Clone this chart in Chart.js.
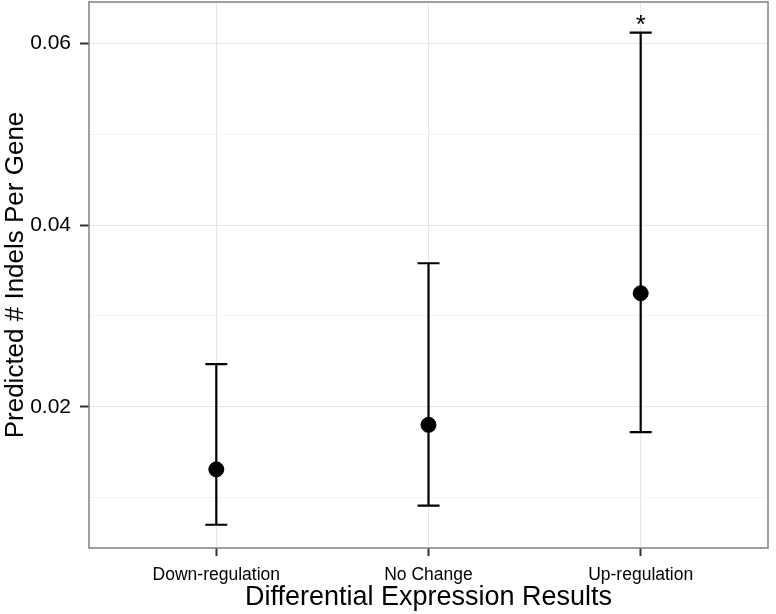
<!DOCTYPE html>
<html>
<head>
<meta charset="utf-8">
<script src="https://cdn.jsdelivr.net/npm/chart.js@4"></script>
<style>
  html, body { margin: 0; padding: 0; background: #ffffff; }
  #wrap { width: 776px; height: 614px; }
</style>
</head>
<body>
<div id="wrap"><canvas id="myChart" width="776" height="614"></canvas></div>
<script>
// categories and values
const categories = ['Down-regulation', 'No Change', 'Up-regulation'];
const meanValues = [0.0131, 0.0180, 0.0325];
const lowerValues = [0.0070, 0.0091, 0.0172];
const upperValues = [0.0247, 0.0358, 0.0612];
const marks = ['', '', '*'];
const yTicks = [0.01, 0.02, 0.03, 0.04, 0.05, 0.06];
const yLabelled = [0.02, 0.04, 0.06];

function isMajor(v) {
    return yLabelled.some(t => Math.abs(t - v) < 1e-9);
}

// error bars + the star above up-regulation
const errorBars = {
    id: 'errorBars',
    beforeDatasetsDraw(chart) {
        const ctx = chart.ctx;
        const xs = chart.scales.x, ys = chart.scales.y;
        ctx.save();
        ctx.strokeStyle = '#000';
        ctx.lineWidth = 2.2;
        for (let i = 0; i < categories.length; i++) {
            let x = xs.getPixelForValue(i + 1);
            let yl = ys.getPixelForValue(lowerValues[i]);
            let yu = ys.getPixelForValue(upperValues[i]);
            ctx.beginPath();
            ctx.moveTo(x, yl); ctx.lineTo(x, yu);
            ctx.moveTo(x - 11, yl); ctx.lineTo(x + 11, yl);
            ctx.moveTo(x - 11, yu); ctx.lineTo(x + 11, yu);
            ctx.stroke();
        }
        ctx.restore();
    },
    afterDatasetsDraw(chart) {
        const ctx = chart.ctx;
        const xs = chart.scales.x, ys = chart.scales.y;
        ctx.save();
        ctx.fillStyle = '#000';
        ctx.font = '26px "Liberation Sans", Arial, sans-serif';
        ctx.textAlign = 'center';
        ctx.textBaseline = 'middle';
        marks.forEach((m, i) => {
            if (!m) return;
            let x = xs.getPixelForValue(i + 1);
            let y = ys.getPixelForValue(upperValues[i]);
            ctx.fillText(m, x, y - 7);
        });
        ctx.restore();
    },
    afterDraw(chart) {
        const a = chart.chartArea;
        const ctx = chart.ctx;
        ctx.save();
        ctx.strokeStyle = '#808080';
        ctx.lineWidth = 1.5;
        ctx.strokeRect(a.left, a.top, a.right - a.left, a.bottom - a.top);
        ctx.restore();
    }
};

var ctx = document.getElementById('myChart').getContext('2d');
var myChart = new Chart(ctx, {
    type: 'scatter',
    data: {
        datasets: [{
            data: meanValues.map((v, i) => ({ x: i + 1, y: v })),
            backgroundColor: '#000',
            borderColor: '#000',
            pointRadius: 7.5,
            pointHoverRadius: 7.5
        }]
    },
    options: {
        responsive: false,
        animation: false,
        layout: { autoPadding: false, padding: { top: 2, right: 8, left: 0, bottom: 0 } },
        plugins: { legend: { display: false }, tooltip: { enabled: false } },
        scales: {
            x: {
                type: 'linear',
                min: 0.4,
                max: 3.6,
                afterBuildTicks: scale => { scale.ticks = categories.map((c, i) => ({ value: i + 1 })); },
                afterFit: scale => {
                    scale.height = 66;
                    scale.paddingLeft = 0; scale.paddingRight = 0;
                },
                ticks: {
                    callback: v => categories[v - 1],
                    color: '#000',
                    font: { family: '"Liberation Sans", Arial, sans-serif', size: 17.5 },
                    padding: 9,
                    maxRotation: 0,
                    autoSkip: false
                },
                grid: { color: '#e6e6e6', lineWidth: 1, tickLength: 8, tickColor: '#333', tickWidth: 2 },
                border: { display: false },
                title: {
                    display: true,
                    text: 'Differential Expression Results',
                    color: '#000',
                    font: { family: '"Liberation Sans", Arial, sans-serif', size: 27 },
                    padding: { top: 0, bottom: 0 }
                }
            },
            y: {
                min: 0.00444,
                max: 0.06457,
                afterBuildTicks: scale => { scale.ticks = yTicks.map(v => ({ value: v })); },
                afterFit: scale => {
                    scale.width = 89;
                    scale.paddingTop = 0; scale.paddingBottom = 0;
                },
                ticks: {
                    callback: v => isMajor(v) ? v.toFixed(2) : '',
                    color: '#000',
                    font: { family: '"Liberation Sans", Arial, sans-serif', size: 21 },
                    padding: 9,
                    autoSkip: false
                },
                grid: {
                    color: c => isMajor(c.tick.value) ? '#e6e6e6' : '#f3f3f3',
                    lineWidth: 1,
                    tickLength: 9,
                    tickColor: c => isMajor(c.tick.value) ? '#333' : 'rgba(0,0,0,0)',
                    tickWidth: 2
                },
                border: { display: false },
                title: {
                    display: true,
                    text: 'Predicted # Indels Per Gene',
                    color: '#000',
                    font: { family: '"Liberation Sans", Arial, sans-serif', size: 26 },
                    padding: { top: 0, bottom: 0 }
                }
            }
        }
    },
    plugins: [errorBars]
});
</script>
</body>
</html>
